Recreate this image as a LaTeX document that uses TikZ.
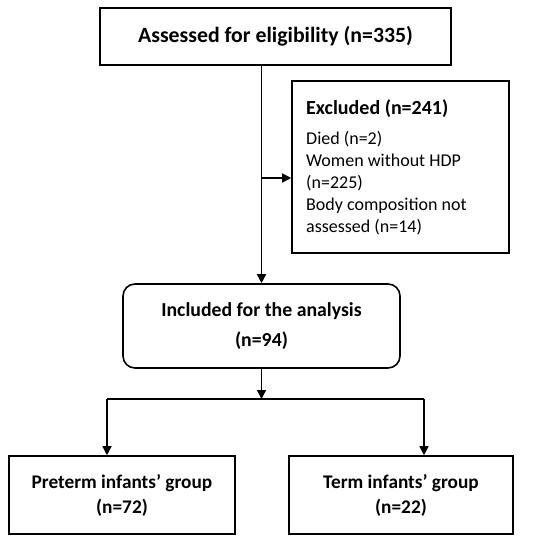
\documentclass[tikz,border=0pt]{standalone}
\usepackage{fontspec}
\setmainfont{Carlito}
\usetikzlibrary{arrows.meta,calc}
\begin{document}
\begin{tikzpicture}[x=1pt,y=1pt,
  box/.style={draw=black,line width=1.6pt,inner sep=0pt,align=center},
  conn/.style={line width=1.4pt},
  arr/.style={conn,-{Triangle[length=9pt,width=9pt]}},
  exline/.style={anchor=base west,inner sep=0pt,font=\fontsize{18}{22}\selectfont}]
\useasboundingbox (0,0) rectangle (550,-542);
\node[box,minimum width=351pt,minimum height=57pt,font=\fontsize{21.8}{26}\selectfont\bfseries] (top) at (275.5,-36.5) {\raisebox{-2pt}{Assessed for eligibility (n=335)}};
\node[box,minimum width=217pt,minimum height=172pt] (excl) at (400.5,-167) {};
\node[exline,font=\fontsize{20}{22}\selectfont\bfseries] (ex0) at (306,-114) {Excluded (n=241)};
\node[exline] (ex1) at (306,-144) {Died (n=2)};
\node[exline] (ex2) at (306,-166) {Women without HDP};
\node[exline] (ex3) at (306,-188) {(n=225)};
\node[exline] (ex4) at (306,-210) {Body composition not};
\node[exline] (ex5) at (306,-232) {assessed (n=14)};
\node[box,rounded corners=12pt,minimum width=277pt,minimum height=84pt,font=\fontsize{19.8}{30}\selectfont\bfseries] (inc) at (261.5,-326) {Included for the analysis\\(n=94)};
\node[box,minimum width=226pt,minimum height=78pt,font=\fontsize{19.3}{25}\selectfont\bfseries] (pre) at (122,-495) {Preterm infants’ group\\(n=72)};
\node[box,minimum width=224pt,minimum height=78pt,font=\fontsize{19.3}{25}\selectfont\bfseries] (term) at (401,-495) {Term infants’ group\\(n=22)};
\coordinate (split) at (261.5,-399);
\coordinate (lft) at (107,-399);
\coordinate (rgt) at (424,-399);
\coordinate (mid) at (261.5,-178);
\draw[arr] (top.south -| inc.north) -- (inc.north);
\draw[arr] (mid) -- (mid -| excl.west);
\draw[arr] (inc.south) -- (split);
\draw[conn] (lft) -- (rgt);
\draw[arr] (lft) -- (lft |- pre.north);
\draw[arr] (rgt) -- (rgt |- term.north);
\end{tikzpicture}
\end{document}
